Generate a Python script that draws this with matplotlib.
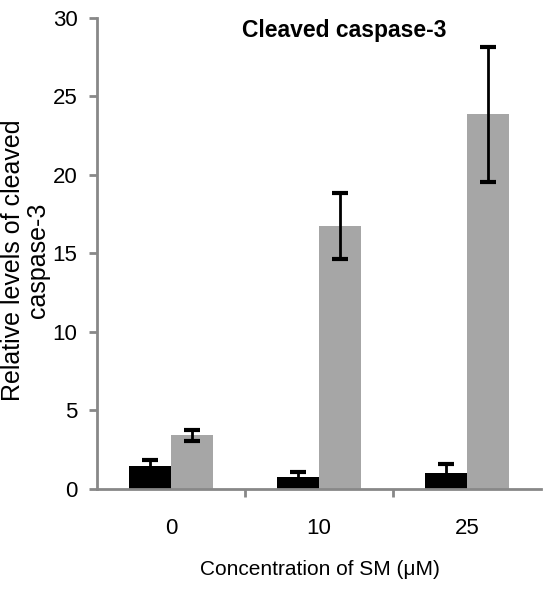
import numpy as np
import matplotlib.pyplot as plt

# Cleaved caspase-3 levels vs SM concentration
concentrations = ['0', '10', '25']
control_vals = [1.43, 0.73, 0.96]
control_err = [0.40, 0.30, 0.62]
treated_vals = [3.40, 16.75, 23.85]
treated_err = [0.35, 2.10, 4.30]

plt.rcParams['font.family'] = ['Liberation Sans', 'DejaVu Sans']

fig = plt.figure(figsize=(5.48, 5.89), dpi=100)
ax = fig.add_axes([0.177, 0.1706, 0.81, 0.7988])

x = np.arange(len(concentrations))
w = 0.284
ax.bar(x - w / 2, control_vals, w, color='black', zorder=2)
ax.bar(x + w / 2, treated_vals, w, color='#a6a6a6', zorder=2)
ax.errorbar(x - w / 2, control_vals, yerr=control_err, fmt='none',
            ecolor='black', elinewidth=2, capsize=6, capthick=3, zorder=3)
ax.errorbar(x + w / 2, treated_vals, yerr=treated_err, fmt='none',
            ecolor='black', elinewidth=2, capsize=6, capthick=3, zorder=3)

ax.set_xlim(-0.5, 2.5)
ax.set_ylim(0, 30)
ax.set_yticks(range(0, 31, 5))
ax.set_xticks(x)
ax.set_xticklabels(concentrations)
ax.set_xticks([0.5, 1.5], minor=True)
ax.tick_params(axis='x', which='major', length=0, pad=21, labelsize=16)
ax.tick_params(axis='x', which='minor', length=6, width=2, color='#888888', direction='out')
ax.tick_params(axis='y', length=6, width=2, color='#888888', direction='out', labelsize=16, pad=8)

for s in ['top', 'right']:
    ax.spines[s].set_visible(False)
for s in ['left', 'bottom']:
    ax.spines[s].set_color('#888888')
    ax.spines[s].set_linewidth(2)

ax.set_ylabel('Relative levels of cleaved\ncaspase-3', fontsize=18,
              linespacing=1.05, multialignment='center')
ax.yaxis.set_label_coords(-0.106, 0.485)
ax.set_xlabel('Concentration of SM (\u03bcM)', fontsize=15)
ax.xaxis.set_label_coords(0.502, -0.151)
ax.text(0.558, 0.974, 'Cleaved caspase-3', transform=ax.transAxes, ha='center', va='center',
        fontsize=16.5, fontweight='bold')

fig.savefig('out.png', dpi=100)
